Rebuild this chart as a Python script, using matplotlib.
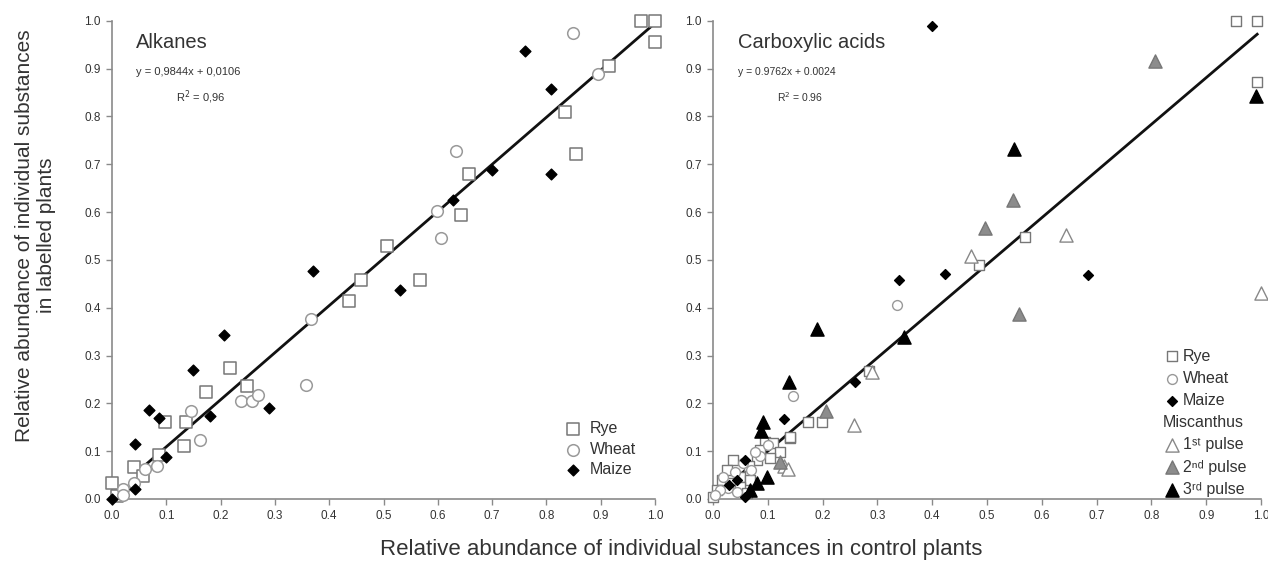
import matplotlib.pyplot as plt
import numpy as np

plt.rcParams['font.family'] = ['Liberation Sans', 'DejaVu Sans']

# ---- Alkanes (left panel) ----
alk_rye_x = [0.975, 1.0, 1.0, 0.915, 0.835, 0.855, 0.657, 0.643, 0.507, 0.458, 0.567, 0.437,
             0.218, 0.248, 0.173, 0.098, 0.137, 0.133, 0.087, 0.04, 0.057, 0.0, 0.01]
alk_rye_y = [1.0, 1.0, 0.955, 0.905, 0.81, 0.721, 0.68, 0.594, 0.53, 0.458, 0.458, 0.413,
             0.273, 0.236, 0.224, 0.162, 0.162, 0.11, 0.092, 0.067, 0.048, 0.034, 0.006]
alk_wheat_x = [0.849, 0.895, 0.634, 0.599, 0.606, 0.367, 0.357, 0.238, 0.258, 0.269, 0.145,
               0.162, 0.083, 0.06, 0.04, 0.02, 0.02]
alk_wheat_y = [0.974, 0.889, 0.728, 0.603, 0.546, 0.376, 0.238, 0.205, 0.205, 0.218, 0.183,
               0.124, 0.069, 0.062, 0.034, 0.021, 0.009]
alk_maize_x = [0.761, 0.808, 0.808, 0.699, 0.628, 0.371, 0.53, 0.207, 0.15, 0.29, 0.069,
               0.087, 0.181, 0.042, 0.1, 0.043, 0.0]
alk_maize_y = [0.937, 0.858, 0.679, 0.687, 0.626, 0.477, 0.437, 0.343, 0.27, 0.19, 0.187,
               0.169, 0.173, 0.116, 0.088, 0.021, 0.0]

# ---- Carboxylic acids (right panel) ----
carb_rye_x = [0.955, 0.993, 0.993, 0.569, 0.485, 0.285, 0.199, 0.173, 0.141, 0.095, 0.11,
              0.123, 0.104, 0.086, 0.08, 0.065, 0.037, 0.025, 0.016, 0.007, 0.0, 0.05, 0.068,
              0.031, 0.05, 0.062, 0.14]
carb_rye_y = [1.0, 1.0, 0.872, 0.547, 0.49, 0.268, 0.16, 0.16, 0.127, 0.12, 0.117,
              0.099, 0.085, 0.103, 0.082, 0.068, 0.082, 0.061, 0.04, 0.019, 0.005, 0.047, 0.04,
              0.033, 0.026, 0.012, 0.13]
carb_wheat_x = [0.336, 0.146, 0.019, 0.04, 0.055, 0.07, 0.028, 0.043, 0.013, 0.086, 0.077,
                0.1, 0.003]
carb_wheat_y = [0.405, 0.216, 0.047, 0.057, 0.075, 0.061, 0.022, 0.015, 0.019, 0.089, 0.099,
                0.112, 0.008]
carb_maize_x = [0.4, 0.339, 0.423, 0.685, 0.259, 0.129, 0.059, 0.043, 0.058, 0.03]
carb_maize_y = [0.99, 0.458, 0.47, 0.468, 0.245, 0.167, 0.082, 0.04, 0.005, 0.03]
pulse1_x = [0.645, 0.47, 1.0, 0.29, 0.257, 0.129, 0.137]
pulse1_y = [0.553, 0.508, 0.43, 0.265, 0.155, 0.07, 0.063]
pulse2_x = [0.806, 0.547, 0.497, 0.559, 0.207, 0.123]
pulse2_y = [0.915, 0.625, 0.567, 0.386, 0.185, 0.078]
pulse3_x = [0.99, 0.549, 0.189, 0.349, 0.139, 0.092, 0.087, 0.098, 0.08, 0.068]
pulse3_y = [0.842, 0.731, 0.355, 0.338, 0.245, 0.16, 0.143, 0.047, 0.033, 0.019]

alk_fit = (0.9844, 0.0106)
carb_fit = (0.9762, 0.0024)

ticks = np.round(np.arange(0, 1.01, 0.1), 1)
txt = '#333333'
axis_col = '#8a8a8a'

fig = plt.figure(figsize=(12.68, 5.68), dpi=100)
ax1 = fig.add_axes([0.0883, 0.1215, 0.4283, 0.842])
ax2 = fig.add_axes([0.5623, 0.1215, 0.4322, 0.842])

for ax in (ax1, ax2):
    ax.set_xlim(0, 1)
    ax.set_ylim(0, 1)
    ax.set_xticks(ticks)
    ax.set_yticks(ticks)
    ax.set_xticklabels([f'{t:.1f}' for t in ticks])
    ax.set_yticklabels([f'{t:.1f}' for t in ticks])
    for s in ('top', 'right'):
        ax.spines[s].set_visible(False)
    for s in ('left', 'bottom'):
        ax.spines[s].set_color(axis_col)
        ax.spines[s].set_linewidth(1.2)
    ax.tick_params(direction='out', length=4, width=1, color=axis_col,
                   labelsize=8.5, labelcolor=txt, pad=4)

# left panel
xs = np.array([0.055, 1.0])
ax1.plot(xs, alk_fit[0] * xs + alk_fit[1], color='#111111', lw=2, zorder=2)
ax1.scatter(alk_rye_x, alk_rye_y, s=85, marker='s', facecolor='white', edgecolor='#777777',
            linewidth=1.1, clip_on=False, zorder=3, label='Rye')
ax1.scatter(alk_wheat_x, alk_wheat_y, s=70, marker='o', facecolor='white', edgecolor='#999999',
            linewidth=1.1, clip_on=False, zorder=3, label='Wheat')
ax1.scatter(alk_maize_x, alk_maize_y, s=30, marker='D', facecolor='black', edgecolor='black',
            clip_on=False, zorder=4, label='Maize')
ax1.text(0.045, 0.955, 'Alkanes', fontsize=14.5, color=txt, va='center', transform=ax1.transAxes)
ax1.text(0.045, 0.893, 'y = 0,9844x + 0,0106', fontsize=8, color=txt, va='center',
         transform=ax1.transAxes)
ax1.text(0.117, 0.84, 'R$^2$ = 0,96', fontsize=8, color=txt, va='center',
         transform=ax1.transAxes)
ax1.legend(loc='lower right', bbox_to_anchor=(0.982, 0.025), frameon=False, fontsize=11.5,
           labelcolor=txt, handletextpad=0.55, handlelength=1.0, labelspacing=0.36,
           borderaxespad=0.2)

# right panel
xs = np.array([0.0, 0.993])
ax2.plot(xs, carb_fit[0] * xs + carb_fit[1], color='#111111', lw=2, zorder=2)
ax2.scatter(carb_rye_x, carb_rye_y, s=60, marker='s', facecolor='white', edgecolor='#777777',
            linewidth=1.0, clip_on=False, zorder=3, label='Rye')
ax2.scatter(carb_wheat_x, carb_wheat_y, s=50, marker='o', facecolor='white', edgecolor='#999999',
            linewidth=1.0, clip_on=False, zorder=3, label='Wheat')
ax2.scatter(carb_maize_x, carb_maize_y, s=25, marker='D', facecolor='black', edgecolor='black',
            clip_on=False, zorder=4, label='Maize')
ax2.scatter([], [], marker='', label='Miscanthus')
ax2.scatter(pulse1_x, pulse1_y, s=90, marker='^', facecolor='white', edgecolor='#888888',
            linewidth=1.0, clip_on=False, zorder=3, label='1ˢᵗ pulse')
ax2.scatter(pulse2_x, pulse2_y, s=90, marker='^', facecolor='#8c8c8c', edgecolor='#777777',
            linewidth=1.0, clip_on=False, zorder=3, label='2ⁿᵈ pulse')
ax2.scatter(pulse3_x, pulse3_y, s=90, marker='^', facecolor='black', edgecolor='black',
            clip_on=False, zorder=4, label='3ʳᵈ pulse')
ax2.text(0.045, 0.955, 'Carboxylic acids', fontsize=14.5, color=txt, va='center',
         transform=ax2.transAxes)
ax2.text(0.045, 0.893, 'y = 0.9762x + 0.0024', fontsize=7.5, color=txt, va='center',
         transform=ax2.transAxes)
ax2.text(0.117, 0.84, 'R$^2$ = 0.96', fontsize=7.5, color=txt, va='center',
         transform=ax2.transAxes)
leg = ax2.legend(loc='lower right', bbox_to_anchor=(1.02, -0.012), frameon=False, fontsize=11.5,
                 labelcolor=txt, handletextpad=0.2, labelspacing=0.45, borderaxespad=0.1,
                 handlelength=1.0)
# "Miscanthus" is a heading, pulled left over the marker column
leg.get_texts()[3].set_x(-20)

fig.text(0.537, 0.032, 'Relative abundance of individual substances in control plants',
         ha='center', va='center', fontsize=16, color=txt)
fig.text(0.028, 0.585, 'Relative abundance of individual substances\nin labelled plants',
         ha='center', va='center', rotation=90, fontsize=15, color=txt, linespacing=1.25)

plt.savefig('out.png', dpi=100)
